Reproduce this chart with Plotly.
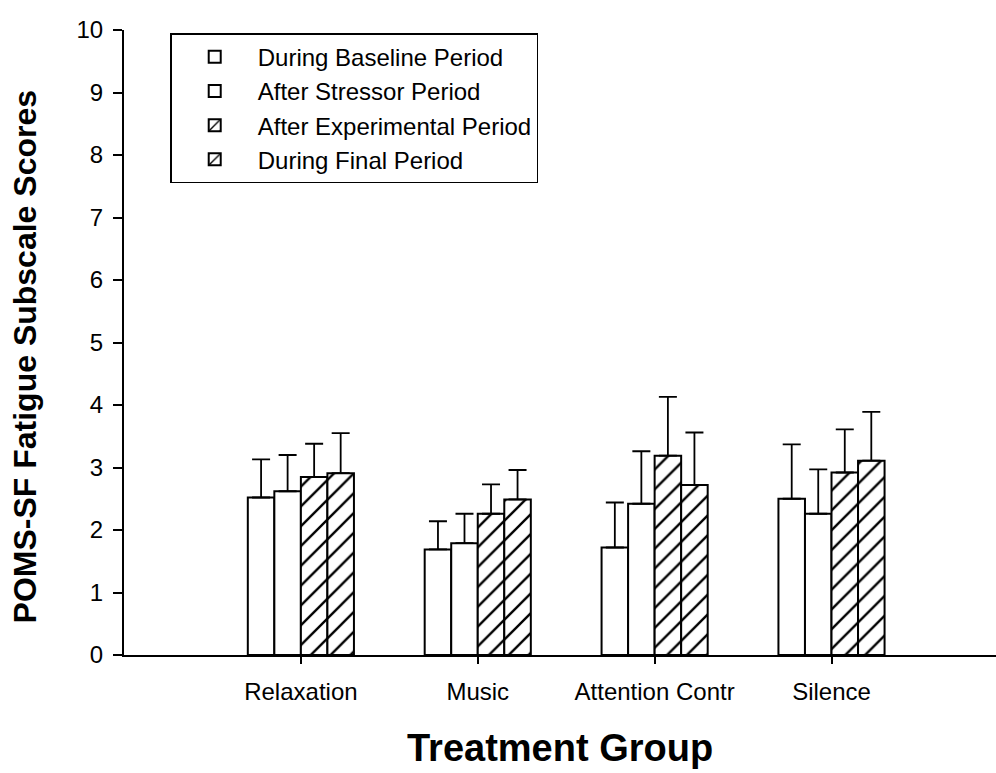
import plotly.graph_objects as go

categories = ["Relaxation", "Music", "Attention Contr", "Silence"]
cat_pos = [1, 2, 3, 4]

series_names = [
    "During Baseline Period",
    "After Stressor Period",
    "After Experimental Period",
    "During Final Period",
]

baseline = [2.52, 1.69, 1.72, 2.50]
baseline_err = [0.61, 0.45, 0.72, 0.87]
stressor = [2.62, 1.79, 2.42, 2.26]
stressor_err = [0.58, 0.47, 0.84, 0.71]
experimental = [2.85, 2.26, 3.19, 2.92]
experimental_err = [0.53, 0.47, 0.94, 0.69]
final = [2.91, 2.49, 2.72, 3.11]
final_err = [0.64, 0.47, 0.84, 0.78]

y_ticks = [0, 1, 2, 3, 4, 5, 6, 7, 8, 9, 10]

values = [baseline, stressor, experimental, final]
errors = [baseline_err, stressor_err, experimental_err, final_err]
hatched = [False, False, True, True]

FONT = "Liberation Sans, Arial, Helvetica, sans-serif"

fig = go.Figure()
for name, v, e, h in zip(series_names, values, errors, hatched):
    pattern = (dict(shape="/", fgcolor="black", fgopacity=1, bgcolor="white", size=14, solidity=0.17)
               if h else dict(shape=""))
    fig.add_trace(go.Bar(
        x=cat_pos, y=v, name=name,
        marker=dict(color="white", line=dict(color="black", width=2), pattern=pattern),
        error_y=dict(type="data", symmetric=False, array=e, arrayminus=[0] * len(e),
                     color="black", thickness=1.8, width=9),
    ))

fig.update_layout(
    width=996, height=773, autosize=False,
    margin=dict(l=124, r=0, t=30, b=118, pad=0),
    paper_bgcolor="white", plot_bgcolor="white",
    barmode="group", bargap=0.4, bargroupgap=0,
    font=dict(family=FONT, color="black", size=24),
    showlegend=True,
    legend=dict(
        x=0.053, y=0.995, xanchor="left", yanchor="top",
        bgcolor="white", bordercolor="black", borderwidth=1.5,
        font=dict(family=FONT, size=24, color="black"),
        itemwidth=76, traceorder="normal",
    ),
    xaxis=dict(
        range=[0, 4.93], tickmode="array", tickvals=cat_pos, ticktext=categories,
        ticks="outside", ticklen=7, tickwidth=1.5, tickcolor="black",
        showline=True, linecolor="black", linewidth=2,
        showgrid=False, zeroline=False,
        tickfont=dict(family=FONT, size=24, color="black"),
        ticklabelstandoff=7,
    ),
    yaxis=dict(
        range=[0, 10], tickmode="array", tickvals=y_ticks,
        ticks="outside", ticklen=9, tickwidth=1.5, tickcolor="black",
        showline=True, linecolor="black", linewidth=2,
        showgrid=False, zeroline=False,
        tickfont=dict(family=FONT, size=24, color="black"),
        ticklabelstandoff=5,
    ),
    annotations=[
        dict(text="POMS-SF Fatigue Subscale Scores", xref="paper", yref="paper",
             x=-0.114, y=0.477, xanchor="center", yanchor="middle", textangle=-90,
             showarrow=False, font=dict(family=FONT, size=32, color="black", weight="bold")),
        dict(text="Treatment Group", xref="paper", yref="paper",
             x=0.50, y=-0.148, xanchor="center", yanchor="middle",
             showarrow=False, font=dict(family=FONT, size=38, color="black", weight="bold")),
    ],
)

fig.write_html("out.html")
